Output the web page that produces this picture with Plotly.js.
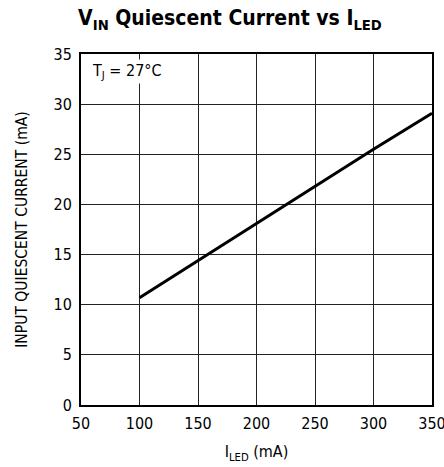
<!DOCTYPE html>
<html>
<head>
<meta charset="utf-8">
<script src="https://cdn.plot.ly/plotly-3.0.1.min.js"></script>
<style>html,body{margin:0;padding:0;background:#fff;}#chart{width:444px;height:467px;}</style>
</head>
<body>
<div id="chart"></div>
<script>
const iLed = [100, 150, 200, 250, 300, 350];
const quiescentCurrent = [10.7, 14.4, 18.1, 21.8, 25.5, 29.1];
const xTicks = [50, 100, 150, 200, 250, 300, 350];
const yTicks = [0, 5, 10, 15, 20, 25, 30, 35];

const FONT = '"DejaVu Sans Condensed", "Liberation Sans", sans-serif';

const trace = {
  x: iLed, y: quiescentCurrent, type: 'scatter', mode: 'lines',
  line: {color: '#000', width: 3}, hoverinfo: 'skip', showlegend: false
};

const layout = {
  width: 444, height: 467,
  margin: {l: 81, r: 12, t: 54, b: 62},
  paper_bgcolor: '#fff', plot_bgcolor: '#fff',
  font: {family: FONT, color: '#000', size: 16},
  title: {
    text: '<b>V<sub>IN</sub> Quiescent Current vs I<sub>LED</sub></b>',
    font: {family: FONT, size: 21, color: '#000'},
    xref: 'container', x: 0.518, xanchor: 'center',
    yref: 'container', y: 0.962, yanchor: 'middle'
  },
  xaxis: {
    range: [50, 350], tickvals: xTicks, ticktext: xTicks.map(String),
    showgrid: true, gridcolor: '#222', gridwidth: 1,
    zeroline: false, showline: true, linecolor: '#000', linewidth: 2, mirror: true,
    ticks: '', tickfont: {size: 16}, ticklabelstandoff: 3, ticklabeloverflow: 'allow',
    title: {text: 'I<sub>LED</sub> (mA)', font: {size: 16}, standoff: 14}
  },
  yaxis: {
    range: [0, 35], tickvals: yTicks, ticktext: yTicks.map(String),
    showgrid: true, gridcolor: '#222', gridwidth: 1,
    zeroline: false, showline: true, linecolor: '#000', linewidth: 2, mirror: true,
    ticks: '', tickfont: {size: 16}, ticklabelstandoff: 4,
    title: {text: 'INPUT QUIESCENT CURRENT (mA)', font: {size: 15.5}, standoff: 22}
  },
  annotations: [{
    text: 'T<sub>J</sub> = 27°C', xref: 'paper', yref: 'paper',
    x: 0.025, y: 0.985, xanchor: 'left', yanchor: 'top', showarrow: false,
    font: {family: FONT, size: 16, color: '#000'}, bgcolor: '#fff'
  }]
};

Plotly.newPlot('chart', [trace], layout, {displayModeBar: false, staticPlot: true});
</script>
</body>
</html>
